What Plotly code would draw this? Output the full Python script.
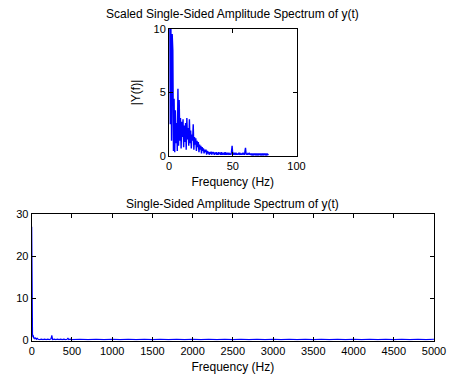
import plotly.graph_objects as go

# ---- data ----
top_step_hz = 0.5
top_amp = [
    27, 10.5, 2.5, 10.2, 1.2, 9.6, 8.3, 0.4, 4.5, 0.3,
    3.6, 1.0, 2.6, 0.4, 5.3, 0.8, 4.4, 1.2, 3.0, 0.6,
    2.7, 1.5, 2.9, 0.7, 2.4, 1.1, 2.6, 0.5, 3.0, 1.3,
    2.2, 0.8, 2.9, 1.0, 2.0, 0.6, 1.7, 1.2, 2.5, 0.5,
    1.5, 0.9, 1.4, 0.4, 1.2, 0.7, 1.1, 0.3, 0.9, 0.5,
    0.8, 0.2, 0.7, 0.4, 0.6, 0.2, 0.5, 0.3, 0.5, 0.1,
    0.4, 0.2, 0.35, 0.1, 0.3, 0.15, 0.35, 0.1, 0.3, 0.2,
    0.3, 0.1, 0.25, 0.15, 0.3, 0.1, 0.25, 0.1, 0.3, 0.15,
    0.25, 0.1, 0.3, 0.1, 0.25, 0.15, 0.2, 0.1, 0.3, 0.1,
    0.25, 0.1, 0.2, 0.15, 0.25, 0.1, 0.2, 0.1, 0.3, 0.8,
    0.1, 0.25, 0.1, 0.2, 0.15, 0.25, 0.1, 0.2, 0.1, 0.2,
    0.15, 0.25, 0.1, 0.2, 0.1, 0.2, 0.15, 0.2, 0.1, 0.3,
    0.65, 0.1, 0.2, 0.1, 0.2, 0.15, 0.2, 0.1, 0.2, 0.1,
    0.15, 0.1, 0.2, 0.1, 0.15, 0.1, 0.2, 0.1, 0.15, 0.1,
    0.2, 0.1, 0.15, 0.1, 0.2, 0.1, 0.15, 0.1, 0.2, 0.1,
    0.15, 0.1, 0.2, 0.1, 0.15, 0.1, 0.15,
]
top_freq = [i * top_step_hz for i in range(len(top_amp))]

bottom_freq = [0, 5, 10, 15, 20, 25, 30, 40, 50, 60, 70, 80, 100, 120, 140,
               160, 180, 200, 220, 240, 250, 260, 280, 300, 320, 340, 360,
               380, 400, 420, 440, 450, 460, 480, 500,
               600, 700, 800, 900, 1000, 1100, 1200, 1300, 1400, 1500,
               1600, 1700, 1800, 1900, 2000, 2100, 2200, 2300, 2400, 2500,
               2600, 2700, 2800, 2900, 3000, 3100, 3200, 3300, 3400, 3500,
               3600, 3700, 3800, 3900, 4000, 4100, 4200, 4300, 4400, 4500,
               4600, 4700, 4800, 4900, 5000]
bottom_amp = [27, 3, 1.5, 0.8, 1.2, 0.5, 0.7, 0.4, 0.6, 0.3, 0.5, 0.3, 0.2, 0.3, 0.2,
              0.3, 0.2, 0.3, 0.2, 0.4, 1.2, 0.2, 0.3, 0.2, 0.3, 0.2, 0.3,
              0.2, 0.3, 0.2, 0.3, 0.6, 0.2, 0.3, 0.2,
              0.3, 0.2, 0.3, 0.2, 0.3, 0.2, 0.3, 0.2, 0.3, 0.2,
              0.3, 0.2, 0.3, 0.2, 0.3, 0.2, 0.3, 0.2, 0.3, 0.2,
              0.3, 0.2, 0.3, 0.2, 0.3, 0.2, 0.3, 0.2, 0.3, 0.2,
              0.3, 0.2, 0.3, 0.2, 0.3, 0.2, 0.3, 0.2, 0.3, 0.2,
              0.3, 0.2, 0.3, 0.2, 0.3]

top_xticks = [0, 50, 100]
top_yticks = [0, 5, 10]
bottom_xticks = [0, 500, 1000, 1500, 2000, 2500, 3000, 3500, 4000, 4500, 5000]
bottom_yticks = [0, 10, 20, 30]

FONT = "Arial, Liberation Sans, sans-serif"
W, H = 449, 375
TFONT = dict(family=FONT, size=12, color="black")

fig = go.Figure()
fig.add_trace(go.Scatter(x=top_freq, y=top_amp, mode="lines",
                         line=dict(color="#0000FF", width=1.4),
                         xaxis="x", yaxis="y", showlegend=False))
fig.add_trace(go.Scatter(x=bottom_freq, y=bottom_amp, mode="lines",
                         line=dict(color="#0000FF", width=1.2),
                         xaxis="x2", yaxis="y2", showlegend=False))

axis_common = dict(showline=True, linecolor="black", linewidth=1, mirror="ticks",
                   ticks="inside", ticklen=4, tickcolor="black", showgrid=False,
                   zeroline=False, automargin=False,
                   tickfont=dict(family=FONT, size=11, color="black"))

fig.update_layout(
    template="none",
    width=W, height=H, paper_bgcolor="white", plot_bgcolor="white",
    margin=dict(l=0, r=0, t=0, b=0),
    xaxis=dict(domain=[169 / W, 296.5 / W], range=[0, 100], tickvals=top_xticks,
               anchor="y",
               title=dict(text="Frequency (Hz)", font=TFONT, standoff=6),
               **axis_common),
    yaxis=dict(domain=[1 - 156 / H, 1 - 29 / H], range=[0, 10], tickvals=top_yticks,
               anchor="x",
               title=dict(text="|Y(f)|", font=TFONT, standoff=10),
               **axis_common),
    xaxis2=dict(domain=[31.7 / W, 434 / W], range=[0, 5000], tickvals=bottom_xticks,
                anchor="y2",
                title=dict(text="Frequency (Hz)", font=TFONT, standoff=6),
                **axis_common),
    yaxis2=dict(domain=[1 - 340.5 / H, 1 - 214 / H], range=[0, 30], tickvals=bottom_yticks,
                anchor="x2", **axis_common),
    annotations=[
        dict(text="Scaled Single-Sided Amplitude Spectrum of y(t)", x=232.5 / W, y=1 - 23 / H,
             xref="paper", yref="paper", xanchor="center", yanchor="bottom", showarrow=False,
             font=TFONT),
        dict(text="Single-Sided Amplitude Spectrum of y(t)", x=232.5 / W, y=1 - 213 / H,
             xref="paper", yref="paper", xanchor="center", yanchor="bottom", showarrow=False,
             font=TFONT),
    ],
)

fig.write_html("out.html", config={"displayModeBar": False},
               post_script="document.body.style.margin='0';")
